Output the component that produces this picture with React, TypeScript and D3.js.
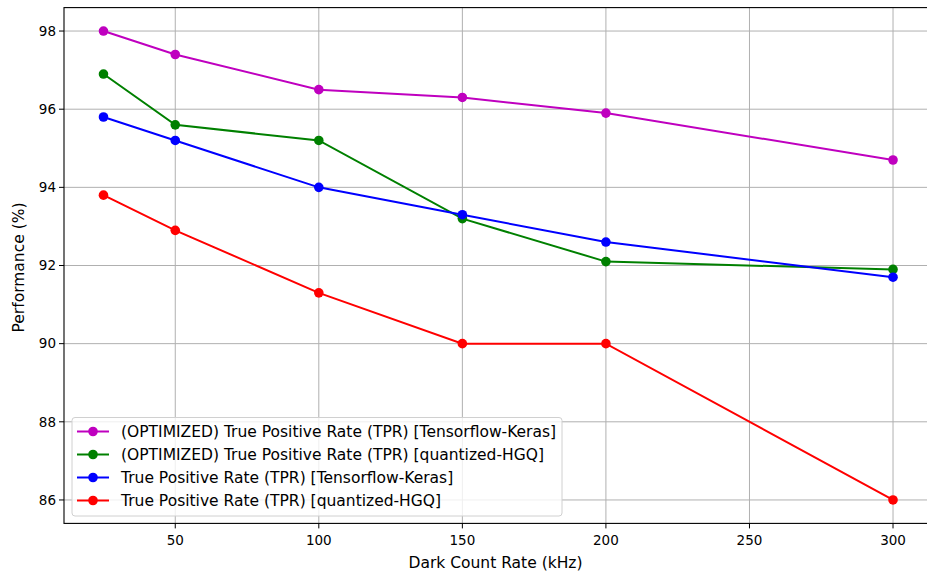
import React from "react";
import * as d3 from "d3";

const xValues = [25, 50, 100, 150, 200, 300];
const seriesNames = [
  "(OPTIMIZED) True Positive Rate (TPR) [Tensorflow-Keras]",
  "(OPTIMIZED) True Positive Rate (TPR) [quantized-HGQ]",
  "True Positive Rate (TPR) [Tensorflow-Keras]",
  "True Positive Rate (TPR) [quantized-HGQ]",
];
const optKeras = [98.0, 97.4, 96.5, 96.3, 95.9, 94.7];
const optHGQ = [96.9, 95.6, 95.2, 93.2, 92.1, 91.9];
const keras = [95.8, 95.2, 94.0, 93.3, 92.6, 91.7];
const hgq = [93.8, 92.9, 91.3, 90.0, 90.0, 86.0];
const seriesColors = ["#bf00bf", "#008000", "#0000ff", "#ff0000"];
const xTicks = [50, 100, 150, 200, 250, 300];
const yTicks = [86, 88, 90, 92, 94, 96, 98];

const W = 927;
const H = 572;
const FONT = "DejaVu Sans, sans-serif";

export default function App() {
  const left = 64;
  const right = 932.5;
  const top = 7.6;
  const bottom = 523.4;
  const x = d3.scaleLinear().domain([11.25, 313.75]).range([left, right]);
  const y = d3.scaleLinear().domain([85.4, 98.6]).range([bottom, top]);
  const allSeries = [optKeras, optHGQ, keras, hgq];
  const line = d3
    .line<number>()
    .x((_, i) => x(xValues[i]))
    .y((d) => y(d));

  const legX = 72;
  const legY = 417.5;
  const legW = 490;
  const legH = 98.5;
  const rowH = 23;

  return (
    <svg
      width={W}
      height={H}
      style={{ position: "absolute", left: 0, top: 0, background: "#fff" }}
      fontFamily={FONT}
    >
      <rect x={0} y={0} width={W} height={H} fill="#fff" />
      <defs>
        <clipPath id="plot">
          <rect x={left} y={top} width={right - left} height={bottom - top} />
        </clipPath>
      </defs>
      {xTicks.map((t) => (
        <line key={"gx" + t} x1={x(t)} x2={x(t)} y1={top} y2={bottom} stroke="#b0b0b0" strokeWidth={1} />
      ))}
      {yTicks.map((t) => (
        <line key={"gy" + t} x1={left} x2={right} y1={y(t)} y2={y(t)} stroke="#b0b0b0" strokeWidth={1} />
      ))}
      <g clipPath="url(#plot)">
        {allSeries.map((s, si) => (
          <g key={"s" + si}>
            <path d={line(s) || ""} fill="none" stroke={seriesColors[si]} strokeWidth={2} />
            {s.map((v, i) => (
              <circle key={i} cx={x(xValues[i])} cy={y(v)} r={4.8} fill={seriesColors[si]} />
            ))}
          </g>
        ))}
      </g>
      <rect x={left} y={top} width={right - left} height={bottom - top} fill="none" stroke="#000" strokeWidth={1.1} />
      {xTicks.map((t) => (
        <g key={"tx" + t}>
          <line x1={x(t)} x2={x(t)} y1={bottom} y2={bottom + 5} stroke="#000" />
          <text x={x(t)} y={bottom + 22} textAnchor="middle" fontSize={13.5} fill="#000">
            {t}
          </text>
        </g>
      ))}
      {yTicks.map((t) => (
        <g key={"ty" + t}>
          <line x1={left - 5} x2={left} y1={y(t)} y2={y(t)} stroke="#000" />
          <text x={left - 8} y={y(t)} dy="0.35em" textAnchor="end" fontSize={13.5} fill="#000">
            {t}
          </text>
        </g>
      ))}
      <text x={495.5} y={567.5} textAnchor="middle" fontSize={15.5} fill="#000">
        Dark Count Rate (kHz)
      </text>
      <text
        transform={`translate(23.5, 267.5) rotate(-90)`}
        textAnchor="middle"
        fontSize={15.5}
        fill="#000"
      >
        Performance (%)
      </text>
      <rect
        x={legX}
        y={legY}
        width={legW}
        height={legH}
        rx={3}
        fill="#fff"
        fillOpacity={0.8}
        stroke="#d0d0d0"
        strokeWidth={1}
      />
      {seriesNames.map((n, i) => {
        const cy = legY + 14 + i * rowH;
        return (
          <g key={"l" + i}>
            <line x1={77} x2={109} y1={cy} y2={cy} stroke={seriesColors[i]} strokeWidth={2} />
            <circle cx={93} cy={cy} r={4.8} fill={seriesColors[i]} />
            <text x={121} y={cy} dy="0.35em" fontSize={15.5} fill="#000">
              {n}
            </text>
          </g>
        );
      })}
    </svg>
  );
}
